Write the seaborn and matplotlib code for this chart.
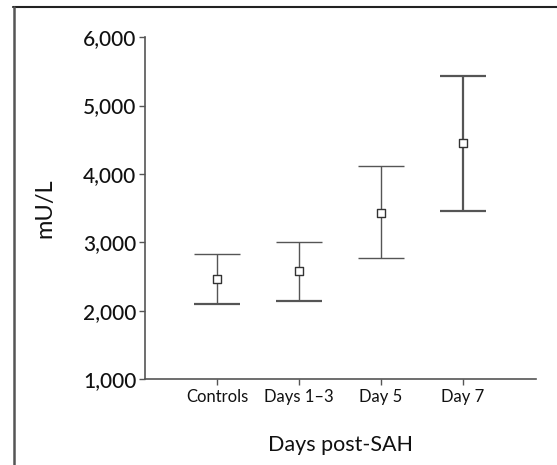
import matplotlib
matplotlib.use("Agg")
import matplotlib.pyplot as plt
from matplotlib.lines import Line2D
import pandas as pd
import seaborn as sns

# values (mU/L)
groups = ["Controls", "Days 1\u20133", "Day 5", "Day 7"]
means = [2458, 2575, 3431, 4446]
upper = [2823, 2998, 4114, 5430]
lower = [2096, 2145, 2769, 3456]
bar_lw = [1.0, 1.0, 1.0, 1.6]
low_cap_lw = [1.6, 1.6, 1.0, 1.6]

df = pd.DataFrame({"group": groups, "mean": means, "upper": upper, "lower": lower})

sns.set_style("white")
plt.rcParams["font.family"] = ["Lato", "DejaVu Sans"]

fig = plt.figure(figsize=(5.57, 4.65), dpi=100)
ax = fig.add_axes([0.260, 0.185, 0.702, 0.735])

col = "#555555"
xs = list(range(len(groups)))
half = 0.28
for i, row in df.iterrows():
    ax.vlines(i, row["lower"], row["upper"], color=col, lw=bar_lw[i])
    ax.hlines(row["upper"], i - half, i + half, color=col, lw=bar_lw[i])
    ax.hlines(row["lower"], i - half, i + half, color=col, lw=low_cap_lw[i])

sns.scatterplot(x=xs, y=df["mean"], marker="s", s=32, facecolor="white",
                edgecolor="#333333", linewidth=1.0, ax=ax, zorder=3)

ax.set_xlim(-0.88, 3.89)
ax.set_ylim(1000, 6000)
ax.set_xticks(xs)
ax.set_xticklabels(groups, fontsize=12)
ax.set_yticks(range(1000, 6001, 1000))
ax.set_yticklabels([f"{v:,}" for v in range(1000, 6001, 1000)],
                   fontsize=15, fontweight="medium")

for s in ["top", "right"]:
    ax.spines[s].set_visible(False)
for s in ["left", "bottom"]:
    ax.spines[s].set_color(col)
    ax.spines[s].set_linewidth(1.2)
ax.tick_params(axis="both", direction="out", length=4, width=1, color=col,
               left=True, bottom=True, pad=2, labelcolor="#111111")
ax.tick_params(axis="x", pad=3)

ax.set_xlabel("Days post-SAH", fontsize=15.5, labelpad=22, color="#111111")
ax.set_ylabel("mU/L", fontsize=17, labelpad=20, color="#111111")

# outer frame (top and left edges)
fig.add_artist(Line2D([13 / 557, 1.0], [1 - 7 / 465, 1 - 7 / 465],
                      transform=fig.transFigure, color="#222222", lw=1.5))
fig.add_artist(Line2D([14 / 557, 14 / 557], [0.0, 1 - 7 / 465],
                      transform=fig.transFigure, color="#555555", lw=1.8))

fig.savefig("out.png", dpi=100)
